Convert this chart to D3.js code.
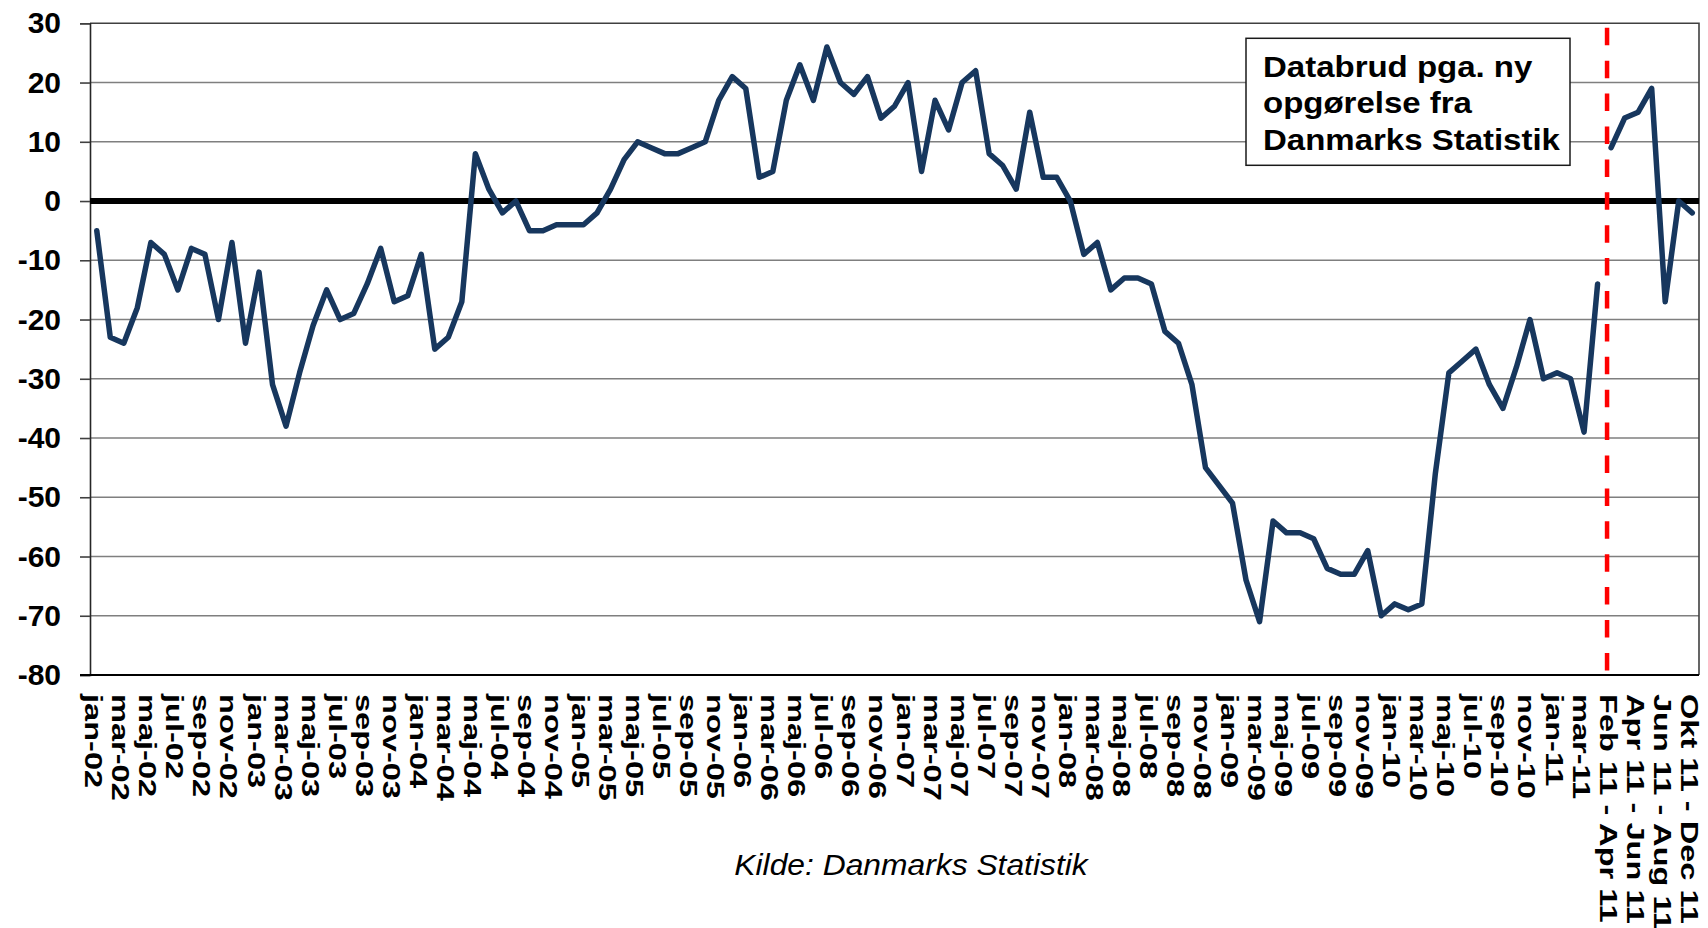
<!DOCTYPE html>
<html>
<head>
<meta charset="utf-8">
<script src="https://cdn.jsdelivr.net/npm/d3@7"></script>
<style>
	body { margin: 0; background: #fff; }
	svg { display: block; }
	text { font-family: 'Liberation Sans', Arial, sans-serif; }
</style>
</head>
<body>
<svg id="chart" width="1708" height="928"></svg>
<script>
const monthNames = ['jan', 'feb', 'mar', 'apr', 'maj', 'jun', 'jul', 'aug', 'sep', 'okt', 'nov', 'dec'];
const years = ['02', '03', '04', '05', '06', '07', '08', '09', '10', '11'];
const monthsIn2011 = 4; // jan-11 .. apr-11
const breakCats = ['Feb 11 - Apr 11', 'Mar 11 - Maj 11', 'Apr 11 - Jun 11', 'Maj 11 - Jul 11',
	'Jun 11 - Aug 11', 'Sep 11 - Nov 11', 'Okt 11 - Dec 11'];

// monthly values, jan-02 .. apr-11
const monthlyValues = [
	-5, -23, -24, -18, -7, -9, -15, -8, -9, -20, -7, -24,
	-12, -31, -38, -29, -21, -15, -20, -19, -14, -8, -17, -16,
	-9, -25, -23, -17, 8, 2, -2, 0, -5, -5, -4, -4,
	-4, -2, 2, 7, 10, 9, 8, 8, 9, 10, 17, 21,
	19, 4, 5, 17, 23, 17, 26, 20, 18, 21, 14, 16,
	20, 5, 17, 12, 20, 22, 8, 6, 2, 15, 4, 4,
	0, -9, -7, -15, -13, -13, -14, -22, -24, -31, -45, -48,
	-51, -64, -71, -54, -56, -56, -57, -62, -63, -63, -59, -70,
	-68, -69, -68, -46, -29, -27, -25, -31, -35, -28, -20, -30,
	-29, -30, -39, -14
];
// new series after the break
const breakValues = [9, 14, 15, 19, -17, 0, -2];

const yTicks = [30, 20, 10, 0, -10, -20, -30, -40, -50, -60, -70, -80];
const noteLines = ['Databrud pga. ny', 'opgørelse fra', 'Danmarks Statistik'];
const sourceText = 'Kilde: Danmarks Statistik';

const NAVY = '#17375e';
const RED = '#ff0000';

const monthly = [];
years.forEach((yr, yi) => {
	monthNames.forEach((m, mi) => {
		if (yi === years.length - 1 && mi >= monthsIn2011) return;
		monthly.push(`${m}-${yr}`);
	});
});
const categories = monthly.concat(breakCats);

const mainData = monthly.map((c, i) => ({ c, v: monthlyValues[i] }));
const breakData = breakCats.map((c, i) => ({ c, v: breakValues[i] }));

const plotLeft = 90;
const plotRight = 1699;
const plotTop = 23.3;
const plotBottom = 675;

const svg = d3.select('#chart');

const x = d3.scaleBand().domain(categories).range([plotLeft, plotRight]).padding(0);
const bw = x.bandwidth();
const xc = c => x(c) + bw / 2;
const y = d3.scaleLinear().domain([-80, 30]).range([plotBottom, plotTop]);

// gridlines
svg.append('g')
	.selectAll('line')
	.data(yTicks.filter(d => d !== 0 && d !== 30 && d !== -80))
	.enter()
	.append('line')
	.attr('x1', plotLeft)
	.attr('x2', plotRight)
	.attr('y1', d => y(d))
	.attr('y2', d => y(d))
	.attr('stroke', '#7f7f7f')
	.attr('stroke-width', 1.6);

// plot border top + right
svg.append('path')
	.attr('d', `M${plotLeft},${y(30)}H${plotRight}V${plotBottom}`)
	.attr('fill', 'none')
	.attr('stroke', '#404040')
	.attr('stroke-width', 1.6);

// y axis (hyphen minus, like the original)
const yAxis = d3.axisLeft(y)
	.tickValues(yTicks)
	.tickSize(10)
	.tickPadding(19)
	.tickFormat(d => String(d));
const gy = svg.append('g').attr('transform', `translate(${plotLeft},0)`).call(yAxis);
gy.select('.domain').attr('stroke', '#262626').attr('stroke-width', 1.6);
gy.selectAll('.tick line').attr('stroke', '#404040').attr('stroke-width', 1.6);
gy.selectAll('.tick text')
	.attr('fill', '#000')
	.style('font-size', '30px')
	.style('font-weight', 'bold')
	.style('font-family', "'Liberation Sans', Arial, sans-serif");

// bottom axis
svg.append('line')
	.attr('x1', plotLeft - 10)
	.attr('x2', plotRight)
	.attr('y1', plotBottom)
	.attr('y2', plotBottom)
	.attr('stroke', '#000')
	.attr('stroke-width', 2);

// zero line
svg.append('line')
	.attr('x1', plotLeft)
	.attr('x2', plotRight)
	.attr('y1', y(0))
	.attr('y2', y(0))
	.attr('stroke', '#000')
	.attr('stroke-width', 6);

// break marker
const breakX = xc(monthly[monthly.length - 1]) + bw * 0.7;
svg.append('line')
	.attr('x1', breakX)
	.attr('x2', breakX)
	.attr('y1', y(30) + 4.5)
	.attr('y2', plotBottom - 3.5)
	.attr('stroke', RED)
	.attr('stroke-width', 4.5)
	.attr('stroke-dasharray', '17.5,15.4');

// x labels, every second category
svg.append('g')
	.selectAll('text')
	.data(categories.filter((d, i) => i % 2 === 0))
	.enter()
	.append('text')
	.attr('transform', d => `translate(${xc(d) - 3},694) rotate(90) scale(1.33,1)`)
	.attr('dominant-baseline', 'central')
	.style('font-size', '24.5px')
	.style('font-weight', 'bold')
	.text(d => d);

// series
const line = d3.line().x(d => xc(d.c)).y(d => y(d.v));
[mainData, breakData].forEach(data => {
	svg.append('path')
		.datum(data)
		.attr('d', line)
		.attr('fill', 'none')
		.attr('stroke', NAVY)
		.attr('stroke-width', 5.5)
		.attr('stroke-linejoin', 'round')
		.attr('stroke-linecap', 'round');
});

// note box
const note = svg.append('g');
note.append('rect')
	.attr('x', 1246)
	.attr('y', 38.3)
	.attr('width', 324)
	.attr('height', 127)
	.attr('fill', '#fff')
	.attr('stroke', '#1a1a1a')
	.attr('stroke-width', 1.5);
note.selectAll('text')
	.data(noteLines)
	.enter()
	.append('text')
	.attr('transform', (d, i) => `translate(1263,${76.7 + i * 36.7}) scale(1.1,1)`)
	.style('font-size', '30px')
	.style('font-weight', 'bold')
	.text(d => d);

// source
svg.append('text')
	.attr('transform', 'translate(911,875) scale(1.06,1)')
	.attr('text-anchor', 'middle')
	.style('font-size', '30px')
	.style('font-style', 'italic')
	.text(sourceText);
</script>
</body>
</html>
